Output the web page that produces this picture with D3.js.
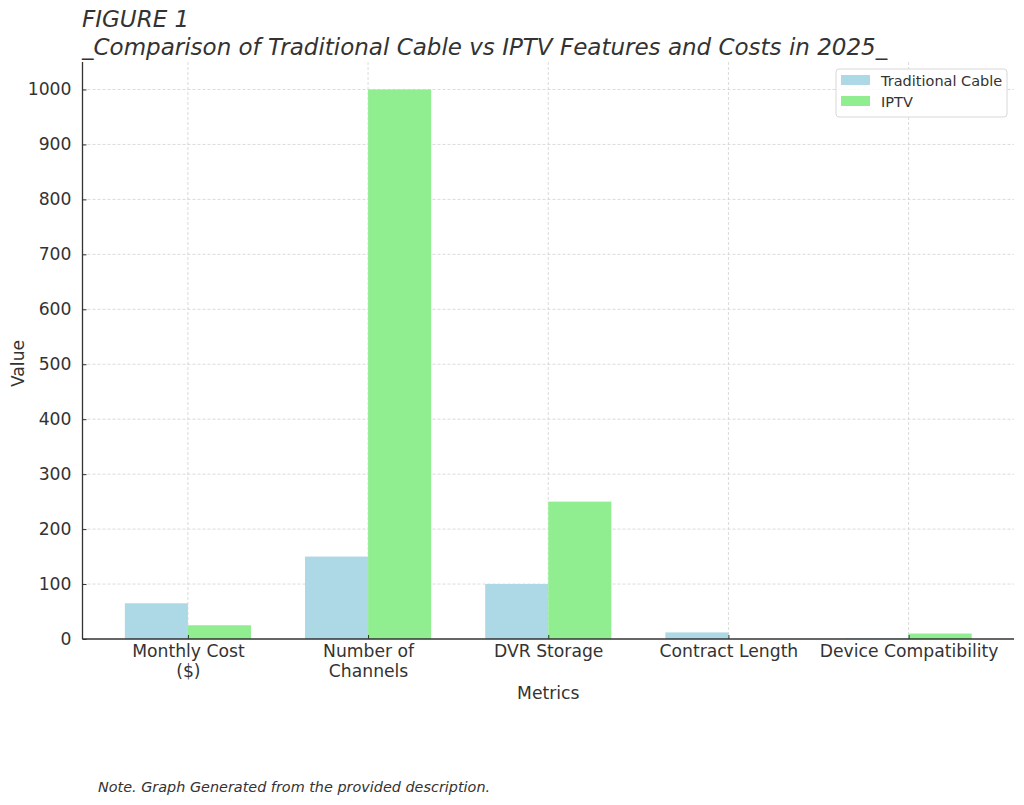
<!DOCTYPE html>
<html>
<head>
<meta charset="utf-8">
<script src="https://cdn.jsdelivr.net/npm/d3@7"></script>
<style>
  html, body { margin: 0; padding: 0; background: #fff; }
  svg { display: block; font-family: "DejaVu Sans", sans-serif; }
</style>
</head>
<body>
<svg id="chart" width="1024" height="805"></svg>
<script>
const categories = ["Monthly Cost\n($)", "Number of\nChannels", "DVR Storage", "Contract Length", "Device Compatibility"];
const seriesNames = ["Traditional Cable", "IPTV"];
const traditionalCable = [65, 150, 100, 12, 1];
const iptv = [25, 1000, 250, 0, 10];
const yTicks = [0, 100, 200, 300, 400, 500, 600, 700, 800, 900, 1000];
const colors = ["#ADD8E6", "#90EE90"];

(function () {
const svg = d3.select("#chart");
const pL = 82.5, pR = 1014, pT = 62, pB = 639;
const barW = 0.35;
const fs = 17.2;

const x = d3.scaleLinear().domain([-0.585, 4.585]).range([pL, pR]);
const y = d3.scaleLinear().domain([0, 1050]).range([pB, pT]);

// grid
const grid = svg.append("g");
grid.selectAll("line.h").data(yTicks.filter(d => d > 0)).enter().append("line")
  .attr("x1", pL).attr("x2", pR)
  .attr("y1", d => y(d)).attr("y2", d => y(d))
  .attr("stroke", "#d0d0d0").attr("stroke-width", 0.8).attr("stroke-dasharray", "3,2");
grid.selectAll("line.v").data(categories.map((c, i) => i)).enter().append("line")
  .attr("x1", d => x(d)).attr("x2", d => x(d))
  .attr("y1", pT).attr("y2", pB)
  .attr("stroke", "#d0d0d0").attr("stroke-width", 0.8).attr("stroke-dasharray", "3,2");

// bars
const series = [traditionalCable, iptv];
series.forEach((vals, s) => {
  svg.append("g").selectAll("rect").data(vals).enter().append("rect")
    .attr("x", (d, i) => x(i + (s === 0 ? -barW : 0)))
    .attr("width", x(barW) - x(0))
    .attr("y", d => y(d))
    .attr("height", d => y(0) - y(d))
    .attr("fill", colors[s]);
});

// axes
const yAxis = d3.axisLeft(y).tickValues(yTicks).tickFormat(d3.format("d")).tickSize(-4).tickPadding(11);
const gy = svg.append("g").attr("transform", `translate(${pL},0)`).call(yAxis);
gy.select(".domain").attr("stroke", "#333").attr("stroke-width", 1.3).attr("d", `M0,${pT}V${pB}`);
gy.selectAll(".tick line").attr("stroke", "#333");
gy.selectAll(".tick text").attr("font-size", fs).attr("fill", "#333").attr("font-family", "DejaVu Sans");

const xAxis = d3.axisBottom(x).tickValues(categories.map((c, i) => i)).tickSize(-4).tickFormat("");
const gx = svg.append("g").attr("transform", `translate(0,${pB})`).call(xAxis);
gx.select(".domain").attr("stroke", "#333").attr("stroke-width", 1.3).attr("d", `M${pL},0H${pR}`);
gx.selectAll(".tick line").attr("stroke", "#333");
gx.selectAll(".tick").each(function(d) {
  const lines = categories[d].split("\n");
  const t = d3.select(this).append("text")
    .attr("text-anchor", "middle").attr("font-size", fs).attr("fill", "#333")
    .attr("font-family", "DejaVu Sans");
  lines.forEach((l, k) => {
    t.append("tspan").attr("x", 0).attr("y", 18 + k * 20).text(l);
  });
});

// axis labels
svg.append("text").attr("x", (pL + pR) / 2).attr("y", 699)
  .attr("text-anchor", "middle").attr("font-size", fs).attr("fill", "#333").text("Metrics");
svg.append("text").attr("transform", `translate(24,${(pT + pB) / 2 + 13}) rotate(-90)`)
  .attr("text-anchor", "middle").attr("font-size", fs).attr("fill", "#333").text("Value");

// title
svg.append("text").attr("x", 82).attr("y", 27).attr("font-size", 23).attr("font-style", "italic")
  .attr("fill", "#333").text("FIGURE 1");
svg.append("text").attr("x", 82).attr("y", 55).attr("font-size", 23).attr("font-style", "italic")
  .attr("fill", "#333").text("_Comparison of Traditional Cable vs IPTV Features and Costs in 2025_");

// note
svg.append("text").attr("x", 98).attr("y", 792).attr("font-size", 14.4).attr("font-style", "italic")
  .attr("fill", "#333").text("Note. Graph Generated from the provided description.");

// legend
const lg = svg.append("g");
lg.append("rect").attr("x", 836).attr("y", 69).attr("width", 171).attr("height", 48)
  .attr("rx", 3).attr("fill", "#fff").attr("fill-opacity", 0.8).attr("stroke", "#d8d8d8");
seriesNames.forEach((n, i) => {
  lg.append("rect").attr("x", 841).attr("y", 75 + i * 21).attr("width", 29).attr("height", 10).attr("fill", colors[i]);
  lg.append("text").attr("x", 881).attr("y", 86 + i * 21).attr("font-size", 14.5).attr("fill", "#333").text(n);
});
})();
</script>
</body>
</html>
